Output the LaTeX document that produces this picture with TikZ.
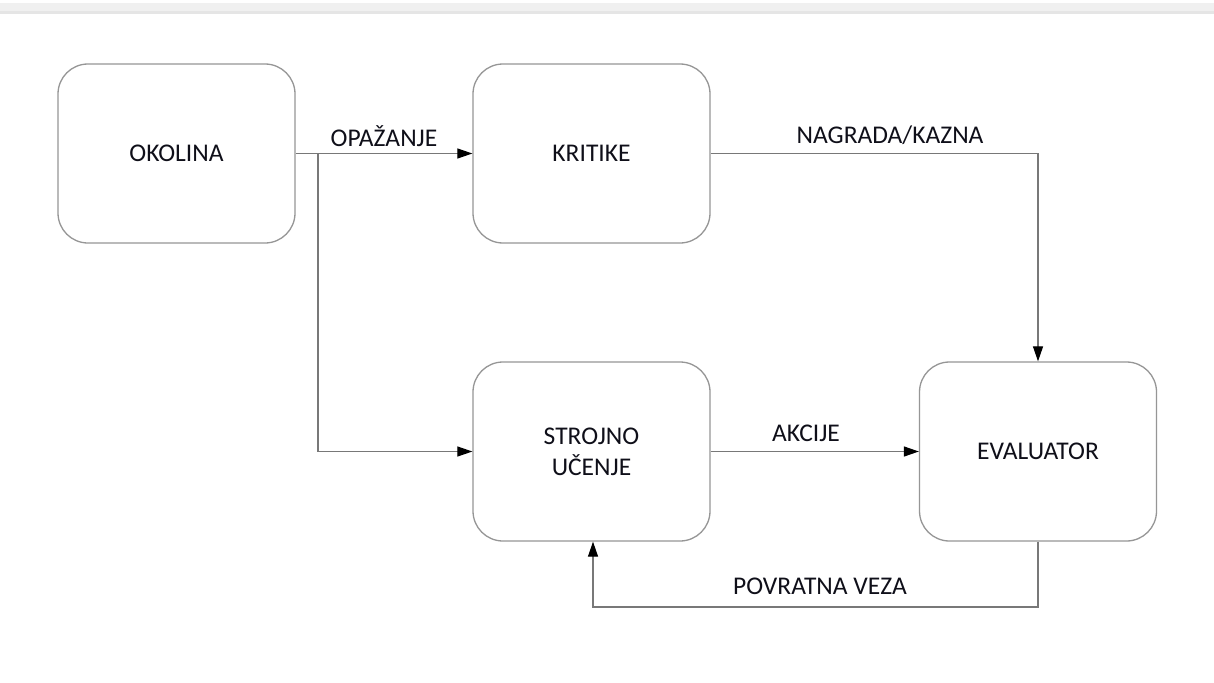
\documentclass[tikz,border=0pt]{standalone}
\usepackage{fontspec}
\setmainfont{Carlito}
\usetikzlibrary{arrows.meta}
\definecolor{boxline}{RGB}{150,150,150}
\definecolor{arrline}{RGB}{120,120,120}
\definecolor{txt}{RGB}{15,15,25}
\begin{document}
\begin{tikzpicture}[x=1pt,y=-1pt,
  blk/.style={draw=boxline,line width=1.3pt,rounded corners=30pt,minimum width=237pt,minimum height=179pt,align=center,font=\fontsize{25.5}{31}\selectfont,text=txt},
  conn/.style={draw=arrline,line width=1.2pt},
  arr/.style={conn,-{Triangle[length=15pt,width=10pt,fill=black,color=black]}},
  lbl/.style={font=\fontsize{25.5}{31}\selectfont,text=txt}]
\useasboundingbox (0,0) rectangle (1214,682);
\fill[white] (0,0) rectangle (1214,682);
\fill[black!6] (0,3) rectangle (1214,14);
\fill[black!10] (0,11) rectangle (1214,14);
\node[blk] (ok) at (176.5,153.5) {OKOLINA};
\node[blk] (kr) at (591.5,153.5) {KRITIKE};
\node[blk] (su) at (591.5,451.5) {STROJNO\\UČENJE};
\node[blk] (ev) at (1038,451.5) {EVALUATOR};
\coordinate (br) at (318,153.5);
\coordinate (c1) at (1038,153.5);
\coordinate (c2) at (1038,607);
\coordinate (c3) at (593,607);
\draw[arr] (ok.east) -- (kr.west);
\draw[arr] (br) |- (su.west);
\draw[arr] (kr.east) -- (c1) -- (ev.north);
\draw[arr] (su.east) -- (ev.west);
\draw[arr] (ev.south) -- (c2) -- (c3) -- (su.south -| c3);
\node[lbl] (l1) at (384,136) {OPAŽANJE};
\node[lbl] (l2) at (890,135) {NAGRADA/KAZNA};
\node[lbl] (l3) at (806,433) {AKCIJE};
\node[lbl] (l4) at (820,586) {POVRATNA VEZA};
\end{tikzpicture}
\end{document}
